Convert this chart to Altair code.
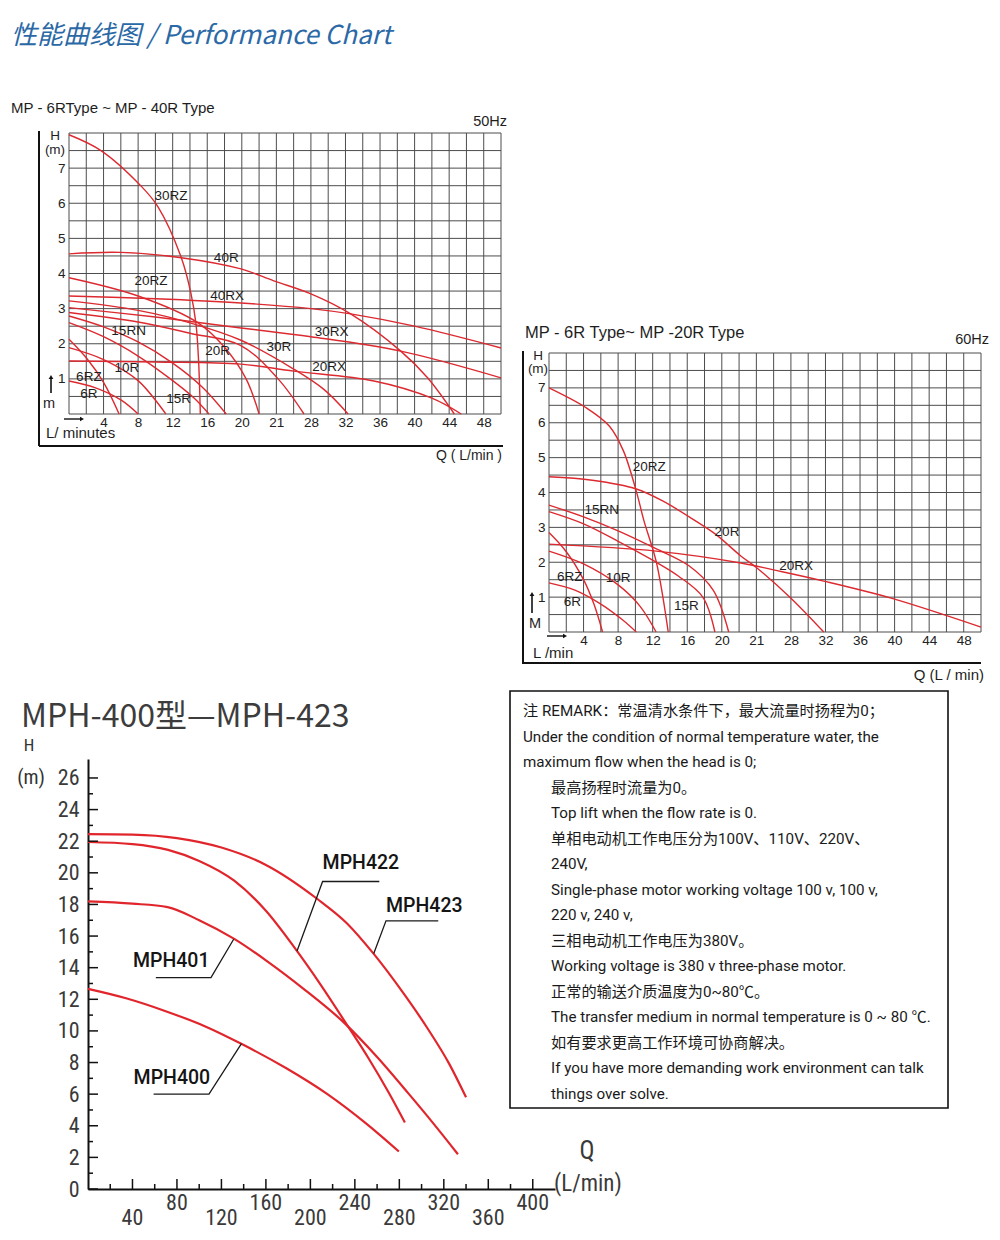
import altair as alt
import pandas as pd

FONT = "Liberation Sans, Arial, Helvetica, sans-serif"
NARROW = "Liberation Sans Narrow, Roboto Condensed, Roboto, sans-serif"
UI = "Roboto, Noto Sans CJK SC, sans-serif"
CJK = "Noto Sans CJK SC, Noto Sans, sans-serif"
RED = "#dc2a30"
GRIDC = "#4d4d4d"
INK = "#1e1e1e"

# ---------------- 50 Hz curves (Q in L/min, H in m) ----------------
Q50_30RZ = [0, 3.7, 8.3, 10.3, 13.0, 14.1, 14.7, 15.0, 15.2]
H50_30RZ = [7.95, 7.5, 6.5, 5.9, 4.45, 3.45, 2.56, 1.5, 0]
Q50_40R = [0, 6, 13, 19.9, 23.7, 28, 32.6, 38.4, 41.5, 44.6]
H50_40R = [4.56, 4.6, 4.45, 4.13, 3.79, 3.42, 2.85, 1.79, 1.03, 0]
Q50_20RZ = [0, 8, 14.9, 18, 20.5, 22]
H50_20RZ = [3.88, 3.36, 2.6, 1.9, 1.0, 0]
Q50_40RX = [0, 10, 19.9, 28, 32.6, 40, 50]
H50_40RX = [3.36, 3.28, 3.16, 3.0, 2.85, 2.5, 1.88]
Q50_30RX = [0, 10, 19.9, 28, 38.4, 50]
H50_30RX = [3.03, 2.76, 2.45, 2.2, 1.79, 1.03]
Q50_30R = [0, 8, 14.5, 19.9, 26, 29.5, 32.3]
H50_30R = [3.22, 2.95, 2.56, 2.1, 1.28, 0.7, 0]
Q50_20R = [0, 8, 14, 19.9, 24.2, 27.2]
H50_20R = [2.89, 2.62, 2.3, 1.95, 1.0, 0]
Q50_15RN = [0, 4, 8, 12, 15.5, 18.2]
H50_15RN = [2.79, 2.48, 2.05, 1.45, 0.75, 0]
Q50_15R = [0, 4, 8, 12, 14.5, 16.2]
H50_15R = [2.60, 2.2, 1.65, 0.95, 0.45, 0]
Q50_10R = [0, 4, 8, 11.2]
H50_10R = [1.89, 1.55, 0.95, 0]
Q50_20RX = [0, 10, 19.9, 26, 35.3, 42, 45.4]
H50_20RX = [1.51, 1.48, 1.42, 1.22, 0.94, 0.45, 0]
Q50_6RZ = [0, 2, 4, 5.8]
H50_6RZ = [2.13, 1.6, 0.9, 0]
Q50_6R = [0, 3, 6, 8]
H50_6R = [0.94, 0.75, 0.4, 0]

L50_NAMES = ["30RZ", "40R", "20RZ", "40RX", "15RN", "30RX", "20R", "30R", "10R", "20RX", "6RZ", "6R", "15R"]
L50_Q = [11.8, 18.2, 9.5, 18.3, 6.9, 30.4, 17.2, 24.3, 6.7, 30.1, 2.3, 2.3, 12.7]
L50_H = [6.21, 4.44, 3.79, 3.36, 2.36, 2.34, 1.79, 1.91, 1.31, 1.34, 1.05, 0.57, 0.43]

# ---------------- 60 Hz curves ----------------
Q60_20RZ = [0, 4.3, 7.0, 8.6, 10.1, 11, 12.4, 13.8]
H60_20RZ = [7.0, 6.43, 5.9, 5.2, 4.04, 3.18, 2.03, 0]
Q60_20R = [0, 5, 10.1, 13.2, 17, 19.3, 22.2, 24, 28, 31.8]
H60_20R = [4.45, 4.35, 4.1, 3.75, 3.18, 2.8, 2.18, 1.85, 0.97, 0]
Q60_20RX = [0, 12.4, 22.2, 26, 31.8, 39.6, 50]
H60_20RX = [2.52, 2.32, 1.98, 1.78, 1.46, 0.97, 0.14]
Q60_15RN = [0, 4, 8, 12.2, 16.2, 19, 20.8]
H60_15RN = [3.64, 3.3, 2.9, 2.41, 1.9, 1.2, 0]
Q60_15R = [0, 4, 8, 12.2, 15, 17.8, 19.2]
H60_15R = [3.45, 3.1, 2.6, 2.03, 1.6, 1.0, 0]
Q60_10R = [0, 4, 8, 10.5, 12.4]
H60_10R = [2.32, 1.95, 1.35, 0.75, 0]
Q60_6RZ = [0, 2, 4, 5.2, 6.2]
H60_6RZ = [2.85, 2.3, 1.5, 0.8, 0]
Q60_6R = [0, 3, 6, 8.5, 10.1]
H60_6R = [1.41, 1.2, 0.8, 0.35, 0]

L60_NAMES = ["20RZ", "15RN", "20R", "20RX", "6RZ", "10R", "6R", "15R"]
L60_Q = [11.6, 6.1, 20.6, 28.6, 2.4, 8.0, 2.7, 15.9]
L60_H = [4.73, 3.5, 2.87, 1.89, 1.58, 1.55, 0.86, 0.75]

# shared grid / tick values for the small charts
GRID_Q = list(range(0, 51, 2))
GRID_H = [0, 0.5, 1, 1.5, 2, 2.5, 3, 3.5, 4, 4.5, 5, 5.5, 6, 6.5, 7, 7.5, 8]
TICK_Q = [4, 8, 12, 16, 20, 24, 28, 32, 36, 40, 44, 48]
TICK_H = [1, 2, 3, 4, 5, 6, 7]

# ---------------- MPH-400 curves ----------------
QM_423 = [0, 40, 80, 120, 160, 206, 233, 257, 283, 305, 325, 340]
HM_423 = [22.45, 22.42, 22.2, 21.6, 20.5, 18.36, 16.8, 14.87, 12.45, 10.2, 7.9, 5.8]
QM_422 = [0, 40, 72, 100, 131.5, 160, 185.4, 209, 233.7, 252, 270.4, 285]
HM_422 = [21.95, 21.82, 21.45, 20.75, 19.5, 17.6, 15.3, 12.95, 10.3, 8.3, 6.1, 4.2]
QM_401 = [0, 40, 71.6, 100, 131.5, 160.3, 195, 230, 260, 288.7, 310, 332.7]
HM_401 = [18.19, 18.05, 17.83, 17.0, 15.82, 14.45, 12.6, 10.54, 8.35, 6.0, 4.2, 2.2]
QM_400 = [0, 35, 68.6, 105, 138.3, 178, 215.3, 250, 279.6]
HM_400 = [12.66, 12.05, 11.28, 10.3, 9.17, 7.65, 6.0, 4.15, 2.37]

# leader lines: point on curve -> elbow -> end of underline
LEAD_NAMES = ["MPH422", "MPH423", "MPH401", "MPH400"]
LEAD_Q = [[188, 211, 262], [257, 268, 315], [131, 110.6, 61], [138, 108.8, 59]]
LEAD_H = [[15.05, 19.45, 19.45], [14.9, 16.96, 16.96], [15.8, 13.37, 13.37], [9.2, 6.0, 6.0]]
LEAD_TQ = [211, 268, 40.4, 41]
LEAD_TH = [20.6, 17.9, 14.4, 7.0]

MPH_YLAB = list(range(0, 27, 2))
MPH_YMINOR = list(range(1, 27, 2))
MPH_XMAJOR = list(range(40, 401, 40))
MPH_XMINOR = list(range(20, 401, 40))

REMARK = [
    "注 REMARK：常温清水条件下，最大流量时扬程为0；",
    "Under the condition of normal temperature water, the",
    "maximum flow when the head is 0;",
    "最高扬程时流量为0。",
    "Top lift when the flow rate is 0.",
    "单相电动机工作电压分为100V、110V、220V、",
    "240V,",
    "Single-phase motor working voltage 100 v, 100 v,",
    "220 v, 240 v,",
    "三相电动机工作电压为380V。",
    "Working voltage is 380 v three-phase motor.",
    "正常的输送介质温度为0~80℃。",
    "The transfer medium in normal temperature is 0 ~ 80 ℃.",
    "如有要求更高工作环境可协商解决。",
    "If you have more demanding work environment can talk",
    "things over solve.",
]


def curves_df(items):
    rows = []
    for name, qs, hs in items:
        for i, (q, h) in enumerate(zip(qs, hs)):
            rows.append({"name": name, "q": q, "h": h, "i": i})
    return pd.DataFrame(rows)


ONE = alt.Data(values=[{"a": 1}])


def txt(text, x, y, size=13, align="left", font=FONT, color=INK, weight="normal", style="normal"):
    return alt.Chart(alt.Data(values=[{"t": text}])).mark_text(
        align=align, baseline="middle", fontSize=size, font=font, color=color,
        fontWeight=weight, fontStyle=style
    ).encode(x=alt.value(x), y=alt.value(y), text="t:N")


def hline(x1, x2, y, w=2, color="#111"):
    return alt.Chart(ONE).mark_rule(color=color, strokeWidth=w).encode(
        x=alt.value(x1), x2=alt.value(x2), y=alt.value(y))


def vline(x, y1, y2, w=2, color="#111"):
    return alt.Chart(ONE).mark_rule(color=color, strokeWidth=w).encode(
        x=alt.value(x), y=alt.value(y1), y2=alt.value(y2))


def head(x, y, shape):
    return alt.Chart(ONE).mark_point(shape=shape, filled=True, size=22, color="#111", opacity=1).encode(
        x=alt.value(x), y=alt.value(y))


def small_panel(curves, lab_names, lab_q, lab_h, xr, yr, xoff, yoff, width, extras):
    xs = alt.Scale(domain=[0, 50], range=xr, nice=False, zero=False)
    ys = alt.Scale(domain=[0, 8], range=yr, nice=False, zero=False)
    axx = alt.Axis(values=TICK_Q, title=None, grid=False, domain=False, ticks=False, tickSize=0,
                   labelPadding=1, labelFontSize=13.5, labelFont=FONT, labelColor="#222",
                   offset=xoff, labelExpr="datum.value == 24 ? '21' : datum.label")
    axy = alt.Axis(values=TICK_H, title=None, grid=False, domain=False, ticks=False, tickSize=0,
                   labelPadding=4, labelFontSize=13.5, labelFont=FONT, labelColor="#222", offset=yoff)
    vg = pd.DataFrame({"g": GRID_Q, "lo": 0, "hi": 8})
    hg = pd.DataFrame({"g": GRID_H, "lo": 0, "hi": 50})
    l_vg = alt.Chart(vg).mark_rule(color=GRIDC, strokeWidth=1).encode(
        x=alt.X("g:Q", scale=xs, axis=axx), y=alt.Y("lo:Q", scale=ys, axis=axy), y2="hi:Q")
    l_hg = alt.Chart(hg).mark_rule(color=GRIDC, strokeWidth=1).encode(
        y=alt.Y("g:Q", scale=ys, axis=axy), x=alt.X("lo:Q", scale=xs, axis=axx), x2="hi:Q")
    l_c = alt.Chart(curves).mark_line(color=RED, strokeWidth=1.4, interpolate="catmull-rom").encode(
        x=alt.X("q:Q", scale=xs, axis=axx), y=alt.Y("h:Q", scale=ys, axis=axy),
        detail="name:N", order="i:Q")
    labs = pd.DataFrame({"name": lab_names, "q": lab_q, "h": lab_h})
    l_t = alt.Chart(labs).mark_text(font=FONT, fontSize=13.5, color=INK).encode(
        x=alt.X("q:Q", scale=xs, axis=axx), y=alt.Y("h:Q", scale=ys, axis=axy), text="name:N")
    return alt.layer(l_vg, l_hg, l_c, l_t, *extras).properties(width=width, height=281)


c50 = curves_df([
    ("30RZ", Q50_30RZ, H50_30RZ), ("40R", Q50_40R, H50_40R), ("20RZ", Q50_20RZ, H50_20RZ),
    ("40RX", Q50_40RX, H50_40RX), ("30RX", Q50_30RX, H50_30RX), ("30R", Q50_30R, H50_30R),
    ("20R", Q50_20R, H50_20R), ("15RN", Q50_15RN, H50_15RN), ("15R", Q50_15R, H50_15R),
    ("10R", Q50_10R, H50_10R), ("20RX", Q50_20RX, H50_20RX), ("6RZ", Q50_6RZ, H50_6RZ),
    ("6R", Q50_6R, H50_6R),
])
c60 = curves_df([
    ("20RZ", Q60_20RZ, H60_20RZ), ("20R", Q60_20R, H60_20R), ("20RX", Q60_20RX, H60_20RX),
    ("15RN", Q60_15RN, H60_15RN), ("15R", Q60_15R, H60_15R), ("10R", Q60_10R, H60_10R),
    ("6RZ", Q60_6RZ, H60_6RZ), ("6R", Q60_6R, H60_6R),
])

# panel 1: 50 Hz  (cell origin = page (87,132))
extras50 = [
    alt.Chart(ONE).mark_rule(color="white", strokeWidth=1).encode(
        x=alt.value(-79), x2=alt.value(-78), y=alt.value(-124)),
    txt("性能曲线图 / Performance Chart", -77, -97, size=26, font=CJK, color="#2b69a6", style="italic"),
    txt("MP - 6RType ~ MP - 40R Type", -77, -25, size=15),
    txt("50Hz", 419, -11, size=14.5, align="right"),
    txt("H", -33, 3, size=13.5, align="center"),
    txt("(m)", -33, 17, size=13.5, align="center"),
    txt("m", -39, 271, size=14.5, align="center"),
    vline(-37, 244, 260, w=1.6), head(-37, 244, "triangle-up"),
    hline(-24, -6, 286, w=1.4), head(-6, 286, "triangle-right"),
    txt("L/ minutes", -42, 300, size=15),
    txt("Q ( L/min )", 414, 323, size=14, align="right"),
    vline(-49, -2, 313, w=2), hline(-49, 415, 313, w=2),
]
p50 = small_panel(c50, L50_NAMES, L50_Q, L50_H, [-19, 413], [281, 0], 0, 19, 400, extras50)

# panel 2: 60 Hz  (cell origin = page (509,132))
extras60 = [
    txt("MP - 6R Type~ MP -20R Type", 15, 200, size=16.5),
    txt("60Hz", 479, 207, size=14.5, align="right"),
    txt("H", 28, 223, size=13.5, align="center"),
    txt("(m)", 28, 236, size=13.5, align="center"),
    txt("M", 25, 491, size=14.5, align="center"),
    vline(22, 461, 480, w=1.6), head(22, 461, "triangle-up"),
    hline(37, 55, 503, w=1.4), head(55, 503, "triangle-right"),
    txt("L /min", 23, 520, size=15),
    txt("Q (L / min)", 474, 542, size=15, align="right"),
    vline(13, 218, 531, w=2), hline(13, 471, 530, w=2),
]
p60 = small_panel(c60, L60_NAMES, L60_Q, L60_H, [39, 471], [499, 220], 218, -39, 438, extras60)

# panel 3: MPH-400  (cell origin = page (87,758))
xsM = alt.Scale(domain=[0, 420], range=[0, 467], nice=False, zero=False)
ysM = alt.Scale(domain=[0, 27.2], range=[430, 0], nice=False, zero=False)
axxM = alt.Axis(title=None, labels=False, ticks=False, tickSize=0, grid=False,
                domainColor="#111", domainWidth=2)
axyM = alt.Axis(title=None, values=MPH_YLAB, ticks=False, tickSize=0, grid=False,
                domainColor="#111", domainWidth=2, labelPadding=9, labelFont=NARROW,
                labelFontSize=22, labelColor="#3a3a3a")
XM = lambda f: alt.X(f, scale=xsM, axis=axxM)
YM = lambda f: alt.Y(f, scale=ysM, axis=axyM)

cM = curves_df([("MPH423", QM_423, HM_423), ("MPH422", QM_422, HM_422),
                ("MPH401", QM_401, HM_401), ("MPH400", QM_400, HM_400)])
lead_rows = []
for n, qs, hs in zip(LEAD_NAMES, LEAD_Q, LEAD_H):
    for i, (q, h) in enumerate(zip(qs, hs)):
        lead_rows.append({"name": n, "q": q, "h": h, "i": i})
lead = pd.DataFrame(lead_rows)
lead_txt = pd.DataFrame({"name": LEAD_NAMES, "q": LEAD_TQ, "h": LEAD_TH})

m_curves = alt.Chart(cM).mark_line(color="#e0262c", strokeWidth=2.2, interpolate="monotone").encode(
    x=XM("q:Q"), y=YM("h:Q"), detail="name:N", order="i:Q")
m_lead = alt.Chart(lead).mark_line(color="#1a1a1a", strokeWidth=1.3).encode(
    x=XM("q:Q"), y=YM("h:Q"), detail="name:N", order="i:Q")
m_ltxt = alt.Chart(lead_txt).mark_text(align="left", baseline="middle", font=UI, fontSize=19.5,
                                       fontWeight=500, color="#151515").encode(
    x=XM("q:Q"), y=YM("h:Q"), text="name:N")
m_ymaj = alt.Chart(pd.DataFrame({"v": MPH_YLAB})).mark_rule(color="#111", strokeWidth=1.5).encode(
    y=YM("v:Q"), x=alt.value(0), x2=alt.value(10))
m_ymin = alt.Chart(pd.DataFrame({"v": MPH_YMINOR})).mark_rule(color="#111", strokeWidth=1.5).encode(
    y=YM("v:Q"), x=alt.value(0), x2=alt.value(5))
m_xmaj = alt.Chart(pd.DataFrame({"v": MPH_XMAJOR})).mark_rule(color="#111", strokeWidth=1.5).encode(
    x=XM("v:Q"), y=alt.value(430), y2=alt.value(420))
m_xmin = alt.Chart(pd.DataFrame({"v": MPH_XMINOR})).mark_rule(color="#111", strokeWidth=1.5).encode(
    x=XM("v:Q"), y=alt.value(430), y2=alt.value(425))
xlab = pd.DataFrame({"v": MPH_XMAJOR})
m_xlab_lo = alt.Chart(xlab).transform_filter("datum.v % 80 == 40").mark_text(
    font=NARROW, fontSize=22, color="#3a3a3a", baseline="middle").encode(
    x=XM("v:Q"), y=alt.value(459), text=alt.Text("v:Q", format="d"))
m_xlab_hi = alt.Chart(xlab).transform_filter("datum.v % 80 == 0").mark_text(
    font=NARROW, fontSize=22, color="#3a3a3a", baseline="middle").encode(
    x=XM("v:Q"), y=alt.value(444), text=alt.Text("v:Q", format="d"))

pM = alt.layer(
    m_curves, m_lead, m_ltxt, m_ymaj, m_ymin, m_xmaj, m_xmin, m_xlab_lo, m_xlab_hi,
    txt("MPH-400型—MPH-423", -67, -42, size=32, font=CJK, color="#3c3c3c"),
    txt("H", -59, -13, size=17, align="center", font=NARROW, color="#333"),
    txt("(m)", -57, 19, size=20, align="center", font=NARROW, color="#333"),
    txt("Q", 499, 392, size=25, align="center", font=NARROW, color="#3a3a3a"),
    txt("(L/min)", 466, 425, size=23, font=NARROW, color="#3a3a3a"),
).properties(width=400, height=430)

# panel 4: remark box  (cell origin = page (509,758))
rem = pd.DataFrame({"i": list(range(len(REMARK))), "t": REMARK})
ysR = alt.Scale(domain=[0, 15], range=[-48, 335], nice=False, zero=False)
r_box = alt.Chart(ONE).mark_rect(fillOpacity=0, stroke="#111", strokeWidth=1.6).encode(
    x=alt.value(0), x2=alt.value(438), y=alt.value(-68), y2=alt.value(349))
r_a = alt.Chart(rem).transform_filter("datum.i < 3").mark_text(
    align="left", baseline="middle", font=UI, fontSize=15.2, color="#1a1a1a").encode(
    x=alt.value(13), y=alt.Y("i:Q", scale=ysR, axis=None), text="t:N")
r_b = alt.Chart(rem).transform_filter("datum.i >= 3").mark_text(
    align="left", baseline="middle", font=UI, fontSize=15.2, color="#1a1a1a").encode(
    x=alt.value(41), y=alt.Y("i:Q", scale=ysR, axis=None), text="t:N")
pR = alt.layer(r_box, r_a, r_b).properties(width=438, height=430)

chart = alt.concat(
    p50, p60, pM, pR, columns=2, spacing={"row": 345, "column": 22},
    bounds="flush", align="each", padding=0,
).resolve_scale(x="independent", y="independent").configure_view(strokeWidth=0).properties(
    background="white")

chart.save("out.html", embed_options={"renderer": "svg", "actions": False})
